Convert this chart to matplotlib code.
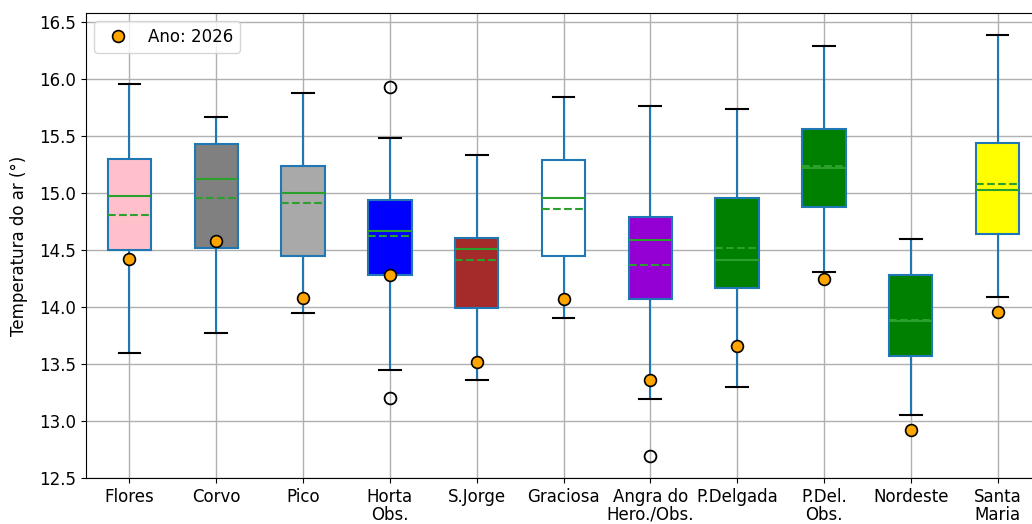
import matplotlib
matplotlib.use("Agg")
import matplotlib.pyplot as plt

stations = ["Flores", "Corvo", "Pico", "Horta\nObs.", "S.Jorge", "Graciosa",
            "Angra do\nHero./Obs.", "P.Delgada", "P.Del.\nObs.", "Nordeste", "Santa\nMaria"]
whislo = [13.60, 13.77, 13.95, 13.45, 13.36, 13.90, 13.19, 13.30, 14.31, 13.05, 14.09]
q1     = [14.50, 14.52, 14.45, 14.28, 13.99, 14.45, 14.07, 14.17, 14.88, 13.57, 14.64]
med    = [14.97, 15.12, 15.00, 14.67, 14.51, 14.96, 14.59, 14.41, 15.22, 13.88, 15.03]
mean   = [14.81, 14.96, 14.91, 14.62, 14.41, 14.86, 14.37, 14.52, 15.24, 13.89, 15.08]
q3     = [15.30, 15.43, 15.24, 14.94, 14.61, 15.29, 14.79, 14.96, 15.56, 14.28, 15.44]
whishi = [15.96, 15.67, 15.88, 15.48, 15.33, 15.84, 15.76, 15.74, 16.29, 14.60, 16.39]
fliers = [[], [], [], [15.93, 13.20], [], [], [12.69], [], [], [], []]
ano2026 = [14.42, 14.58, 14.08, 14.28, 13.52, 14.07, 13.36, 13.66, 14.25, 12.92, 13.96]
box_colors = ["pink", "gray", "darkgray", "blue", "brown", "white",
              "darkviolet", "green", "green", "green", "yellow"]

fig = plt.figure(figsize=(10.32, 5.24), dpi=100)
ax = fig.add_axes([86 / 1032, 46 / 524, 955 / 1032, 465 / 524])

stats = []
for i in range(len(stations)):
    stats.append(dict(whislo=whislo[i], q1=q1[i], med=med[i], mean=mean[i],
                      q3=q3[i], whishi=whishi[i], fliers=fliers[i], label=stations[i]))

positions = list(range(1, len(stations) + 1))
bp = ax.bxp(stats, positions=positions, widths=0.5, patch_artist=True,
            showmeans=True, meanline=True,
            boxprops=dict(edgecolor="#1f77b4", linewidth=1.5),
            whiskerprops=dict(color="#1f77b4", linewidth=1.5),
            capprops=dict(color="black", linewidth=1.5),
            medianprops=dict(color="#2ca02c", linewidth=1.5),
            meanprops=dict(color="#2ca02c", linestyle="--", linewidth=1.5),
            flierprops=dict(marker="o", markerfacecolor="none", markeredgecolor="black",
                            markersize=8.5, markeredgewidth=1.3))
for patch, c in zip(bp["boxes"], box_colors):
    patch.set_facecolor(c)

ax.plot(positions, ano2026, linestyle="none", marker="o", markersize=8.5,
        markerfacecolor="orange", markeredgecolor="black", markeredgewidth=1.2,
        label="Ano: 2026", zorder=5)

ax.set_xlim(0.5, 11.5)
ax.set_ylim(12.5, 16.58)
ax.set_yticks([12.5, 13.0, 13.5, 14.0, 14.5, 15.0, 15.5, 16.0, 16.5])
ax.set_xticks(positions)
ax.set_xticklabels(stations, fontsize=12, linespacing=1.0)
ax.tick_params(axis="y", labelsize=12)
ax.grid(True, color="#b0b0b0", linewidth=1.0)
ax.set_axisbelow(True)
ax.set_ylabel("Temperatura do ar (°)", fontsize=12, labelpad=8)
ax.legend(loc="upper left", fontsize=12)

fig.savefig("out.png", dpi=100)
